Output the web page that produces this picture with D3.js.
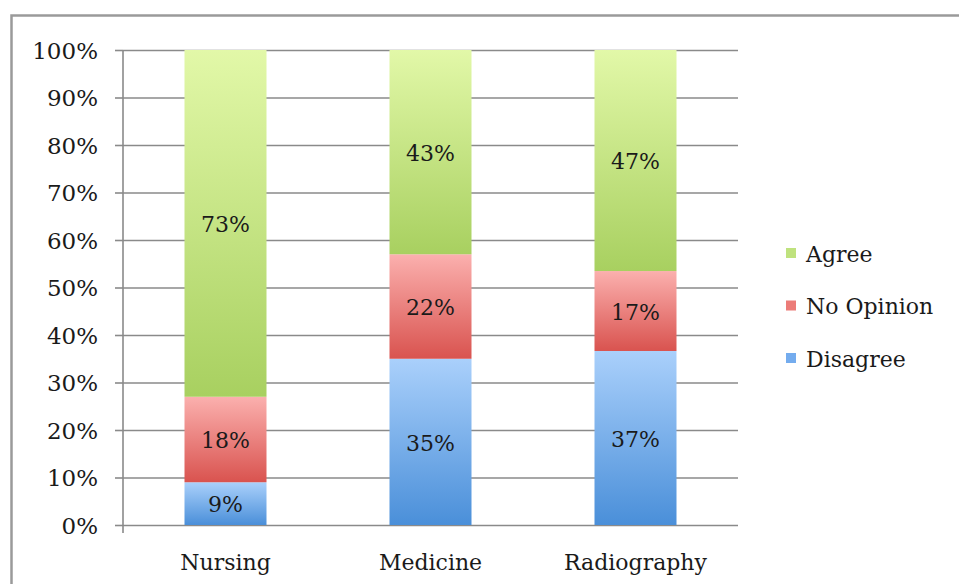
<!DOCTYPE html>
<html><head><meta charset="utf-8">
<script src="https://cdn.jsdelivr.net/npm/d3@7"></script>
<style>body{margin:0;background:#fff}svg{display:block}</style>
</head><body>
<svg id="c" width="959" height="584"></svg>
<script>
const categories = ["Nursing", "Medicine", "Radiography"];
const seriesNames = ["Disagree", "No Opinion", "Agree"];
const disagree = [9, 35, 37];
const noOpinion = [18, 22, 17];
const agree = [73, 43, 47];
const yTicks = [0, 10, 20, 30, 40, 50, 60, 70, 80, 90, 100];

const svg = d3.select("#c");
const font = "'DejaVu Serif', serif";
const margin = {left: 123, right: 221, top: 50, bottom: 59};
const W = 959, H = 584;

// frame
svg.append("path").attr("d", `M11.5,${H} V15.5 H${W}`).attr("fill","none").attr("stroke","#9a9a9a").attr("stroke-width",2.5);

const x = d3.scaleBand().domain(categories).range([margin.left, W - margin.right]).paddingInner(0.6).paddingOuter(0.3);
const y = d3.scaleLinear().domain([0, 100]).range([H - margin.bottom, margin.top]);

const data = categories.map((c, i) => {
  const tot = disagree[i] + noOpinion[i] + agree[i];
  return {cat: c, vals: [disagree[i], noOpinion[i], agree[i]], tot};
});

// gridlines
const yAxis = d3.axisLeft(y).tickValues(yTicks).tickSize(8).tickFormat(d => d + "%").tickPadding(17);
const gy = svg.append("g").attr("transform", `translate(${margin.left},0)`).call(yAxis);
gy.select(".domain").remove();
gy.selectAll(".tick line").attr("stroke","#8a8a8a").attr("stroke-width",1.6);
gy.selectAll(".tick").append("line").attr("x1",0).attr("x2", W - margin.right - margin.left).attr("stroke","#8a8a8a").attr("stroke-width",1.6);
gy.selectAll(".tick text").attr("font-family", font).attr("font-size", 23).attr("fill","#1a1a1a").attr("dy","0.35em");
svg.append("line").attr("x1",margin.left).attr("x2",margin.left).attr("y1",y(100)).attr("y2",y(0)+8).attr("stroke","#8a8a8a").attr("stroke-width",1.6);

// gradients
const defs = svg.append("defs");
const grads = [["gDis","#aad0fb","#4a8fd9"],["gNo","#fbb0ae","#d9534f"],["gAg","#e2f8a8","#a8d060"]];
grads.forEach(([id,a,b]) => {
  const g = defs.append("linearGradient").attr("id",id).attr("x1",0).attr("x2",0).attr("y1",0).attr("y2",1);
  g.append("stop").attr("offset","0%").attr("stop-color",a);
  g.append("stop").attr("offset","100%").attr("stop-color",b);
});
const fill = d3.scaleOrdinal().domain(seriesNames).range(grads.map(g => `url(#${g[0]})`));
const swatch = d3.scaleOrdinal().domain(seriesNames).range(["#74acee","#ec7c78","#bfe27e"]);

data.forEach(d => {
  let cum = 0;
  d.vals.forEach((v, k) => {
    const p0 = cum / d.tot * 100, p1 = (cum + v) / d.tot * 100;
    cum += v;
    svg.append("rect").attr("x", x(d.cat)).attr("width", x.bandwidth())
      .attr("y", y(p1)).attr("height", y(p0) - y(p1)).attr("fill", fill(seriesNames[k]));
    svg.append("text").attr("x", x(d.cat) + x.bandwidth()/2).attr("y", (y(p0)+y(p1))/2 + 1)
      .attr("dy","0.35em").attr("text-anchor","middle").attr("font-family",font).attr("font-size",22).attr("fill","#1a1a1a").text(v + "%");
  });
});

// x axis labels
svg.append("g").selectAll("text").data(categories).join("text")
  .attr("x", d => x(d) + x.bandwidth()/2).attr("y", 570).attr("text-anchor","middle")
  .attr("font-family",font).attr("font-size",22).attr("fill","#1a1a1a").text(d => d);

// legend
const legendOrder = ["Agree","No Opinion","Disagree"];
const lg = svg.append("g");
legendOrder.forEach((n, i) => {
  const yy = 254 + i * 52.5;
  lg.append("rect").attr("x",786).attr("y",yy-6).attr("width",10).attr("height",10).attr("fill",swatch(n));
  lg.append("text").attr("x",806).attr("y",yy).attr("dy","0.35em").attr("font-family",font).attr("font-size",22).attr("fill","#1a1a1a").text(n);
});
</script>
</body></html>
